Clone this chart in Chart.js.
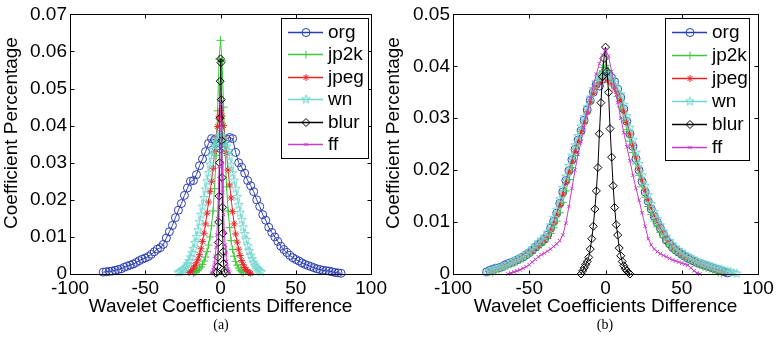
<!DOCTYPE html>
<html>
<head>
<meta charset="utf-8">
<script src="https://cdn.jsdelivr.net/npm/chart.js@4"></script>
<style>
body { margin: 0; background: #fff; }
#wrap { position: relative; width: 777px; height: 340px; }
canvas { position: absolute; top: 0; }
#cA { left: 0; }
#cB { left: 380px; }
.cap { position: absolute; top: 317px; line-height: 16px; font: 14px 'Liberation Serif', 'Times New Roman', serif; color: #000; transform: translateX(-50%); }
</style>
</head>
<body>
<div id="wrap">
  <canvas id="cA" width="390" height="340"></canvas>
  <canvas id="cB" width="397" height="340"></canvas>
  <div class="cap" style="left:221px">(a)</div>
  <div class="cap" style="left:605px">(b)</div>
</div>
<script>
// ---- (a) ----
const xL2 = [-78,-76,-74,-72,-70,-68,-66,-64,-62,-60,-58,-56,-54,-52,-50,-48,-46,-44,-42,-40,
  -38,-36,-34,-32,-30,-28,-26,-24,-22,-20,-18,-16,-14,-12,-10,-8,-6,-4,-2,0,
  2,4,6,8,10,12,14,16,18,20,22,24,26,28,30,32,34,36,38,40,
  42,44,46,48,50,52,54,56,58,60,62,64,66,68,70,72,74,76,78,80];
const orgA = [.0005,.0006,.0007,.0008,.0010,.0012,.0014,.0018,.0021,.0024,
  .0027,.0031,.0036,.0040,.0043,.0047,.0053,.0060,.0067,.0071,
  .0080,.0097,.0114,.0131,.0152,.0172,.0190,.0212,.0232,.0250,
  .0252,.0268,.0292,.0310,.0330,.0352,.0365,.0362,.0345,.0338,
  .0345,.0364,.0368,.0365,.0328,.0300,.0288,.0272,.0252,.0238,
  .0222,.0200,.0182,.0160,.0145,.0126,.0112,.0100,.0088,.0075,
  .0066,.0058,.0050,.0044,.0039,.0035,.0030,.0026,.0023,.0020,
  .0017,.0014,.0012,.0010,.0009,.0008,.0006,.0004,.0003,.0002];

const xL1 = [-28,-27,-26,-25,-24,-23,-22,-21,-20,-19,-18,-17,-16,-15,-14,-13,-12,-11,-10,-9,
  -8,-7,-6,-5,-4,-3,-2,-1,0,1,2,3,4,5,6,7,8,9,10,11,
  12,13,14,15,16,17,18,19,20,21,22,23,24,25,26,27];
const wnA = [.0004,.0006,.0008,.0011,.0015,.0020,.0027,.0035,.0045,.0056,
  .0068,.0084,.0100,.0118,.0140,.0160,.0182,.0205,.0228,.0250,
  .0272,.0295,.0318,.0335,.0345,.0355,.0365,.0372,.0376,.0372,
  .0364,.0354,.0344,.0332,.0316,.0294,.0272,.0252,.0230,.0208,
  .0186,.0165,.0146,.0126,.0108,.0092,.0076,.0062,.0050,.0040,
  .0031,.0023,.0017,.0012,.0008,.0005];
const jpegA = [null,null,null,null,null,null,null,
  .0004,.0007,.0011,.0016,.0022,.0030,.0040,.0052,.0068,.0088,
  .0110,.0135,.0164,.0194,.0222,.0250,.0285,.0330,.0368,.0398,
  .0425,.0440,.0426,.0400,.0366,.0325,.0280,.0240,.0205,.0168,
  .0135,.0108,.0086,.0067,.0050,.0036,.0025,.0017,.0011,.0007,
  .0004,.0002,
  null,null,null,null,null,null,null];
const jp2kA = [null,null,null,null,null,null,null,null,null,null,
  .0003,.0005,.0007,.0010,.0014,.0019,.0026,.0035,.0046,.0060,
  .0078,.0100,.0130,.0170,.0230,.0320,.0440,.0580,.0630,.0575,
  .0450,.0330,.0235,.0170,.0125,.0090,.0066,.0048,.0034,.0024,
  .0016,.0010,.0006,.0003,
  null,null,null,null,null,null,null,null,null,null,null,null];

const xBlurA = [-3,-2.5,-2,-1.75,-1.5,-1.25,-1,-0.75,-0.5,-0.25,0,0.25,0.5,0.75,1,1.25,1.5,1.75,2,2.5,3];
const blurA = [.0002,.0006,.0020,.0045,.0085,.0140,.0210,.0300,.0420,.0520,.0580,.0570,.0470,.0360,.0260,.0180,.0110,.0060,.0028,.0008,.0002];

const xFfA = [-6,-5.5,-5,-4.5,-4,-3.5,-3,-2.5,-2,-1.5,-1,-0.5,0,0.5,1,1.5,2,2.5,3,3.5,4,4.5,5,5.5,6];
const ffA = [.0002,.0005,.0010,.0018,.0030,.0048,.0072,.0105,.0150,.0210,.0290,.0390,.0460,
  .0400,.0300,.0220,.0160,.0112,.0078,.0052,.0034,.0021,.0012,.0006,.0002];

// ---- (b) ----
const xR = [-80,-78,-76,-74,-72,-70,-68,-66,-64,-62,-60,-58,-56,-54,-52,-50,-48,-46,-44,-42,
  -40,-38,-36,-34,-32,-30,-28,-26,-24,-22,-20,-18,-16,-14,-12,-10,-8,-6,-4,-2,
  0,2,4,6,8,10,12,14,16,18,20,22,24,26,28,30,32,34,36,38,
  40,42,44,46,48,50,52,54,56,58,60,62,64,66,68,70,72,74,76,78,80,82,84,86];
const orgB = [null,.0004,.0007,.0009,.0011,.0012,.0014,.0017,.0020,.0022,
  .0024,.0027,.0030,.0033,.0037,.0041,.0046,.0052,.0057,.0062,
  .0067,.0075,.0088,.0101,.0117,.0136,.0158,.0180,.0199,.0220,
  .0240,.0258,.0276,.0296,.0316,.0334,.0350,.0366,.0362,.0375,
  .0390,.0385,.0378,.0370,.0356,.0340,.0318,.0294,.0270,.0246,
  .0222,.0200,.0178,.0158,.0140,.0125,.0111,.0099,.0088,.0076,
  .0065,.0058,.0051,.0046,.0042,.0038,.0034,.0031,.0028,.0025,
  .0022,.0020,.0018,.0016,.0014,.0012,.0010,.0008,.0006,.0004,
  .0002,null,null,null];
const jp2kB = [null,null,null,.0003,.0006,.0009,.0011,.0013,.0016,.0019,
  .0021,.0024,.0027,.0030,.0034,.0038,.0042,.0047,.0052,.0057,
  .0062,.0068,.0078,.0089,.0102,.0118,.0138,.0160,.0182,.0205,
  .0228,.0250,.0270,.0290,.0310,.0330,.0350,.0368,.0385,.0398,
  .0402,.0392,.0376,.0360,.0342,.0322,.0300,.0278,.0256,.0234,
  .0212,.0190,.0168,.0148,.0130,.0115,.0102,.0091,.0080,.0070,
  .0061,.0054,.0048,.0043,.0039,.0035,.0031,.0028,.0025,.0022,
  .0019,.0017,.0014,.0012,.0010,.0008,.0006,.0003,.0001,null,
  null,null,null,null];
const jpegB = [null,null,.0004,.0006,.0008,.0010,.0013,.0016,.0018,.0021,
  .0024,.0027,.0030,.0034,.0038,.0042,.0045,.0050,.0056,.0061,
  .0066,.0073,.0085,.0098,.0114,.0132,.0154,.0176,.0196,.0216,
  .0236,.0255,.0274,.0292,.0312,.0332,.0348,.0360,.0368,.0374,
  .0378,.0372,.0366,.0358,.0348,.0334,.0314,.0292,.0270,.0248,
  .0226,.0204,.0182,.0162,.0144,.0128,.0114,.0101,.0090,.0079,
  .0069,.0061,.0054,.0048,.0043,.0039,.0035,.0032,.0029,.0026,
  .0023,.0020,.0018,.0016,.0014,.0012,.0010,.0008,.0005,.0003,
  null,null,null,null];
const wnB = [null,.0003,.0006,.0008,.0010,.0012,.0014,.0016,.0019,.0022,
  .0025,.0028,.0031,.0035,.0039,.0044,.0049,.0055,.0061,.0066,
  .0072,.0080,.0094,.0108,.0124,.0144,.0166,.0188,.0208,.0228,
  .0248,.0266,.0284,.0302,.0322,.0340,.0356,.0370,.0378,.0384,
  .0386,.0382,.0376,.0368,.0358,.0346,.0326,.0304,.0282,.0258,
  .0234,.0212,.0190,.0170,.0152,.0135,.0120,.0106,.0094,.0082,
  .0072,.0064,.0057,.0051,.0046,.0042,.0038,.0034,.0031,.0028,
  .0025,.0022,.0020,.0018,.0016,.0014,.0012,.0010,.0009,.0007,
  .0005,.0004,.0002,.0001];
const ffB = [null,null,null,null,null,null,null,null,.0000,.0002,
  .0004,.0006,.0008,.0011,.0014,.0018,.0023,.0028,.0033,.0037,
  .0040,.0044,.0048,.0053,.0058,.0064,.0075,.0098,.0130,.0165,
  .0200,.0230,.0255,.0282,.0310,.0338,.0362,.0385,.0405,.0422,
  .0432,.0420,.0390,.0360,.0330,.0300,.0272,.0245,.0218,.0190,
  .0165,.0142,.0118,.0092,.0068,.0056,.0048,.0043,.0039,.0036,
  .0033,.0030,.0027,.0025,.0023,.0021,.0019,.0017,.0012,.0006,
  .0002,.0000,null,null,null,null,null,null,null,null,
  null,null,null,null];
const xBlurB = [-16,-15,-14,-13,-12,-11,-10,-9,-8,-7,-6,-5,-4,-3,-2,-1,0,1,2,3,4,5,6,7,8,9,10,11,12,13,14,15,16];
const blurB = [.0000,.0006,.0012,.0018,.0024,.0032,.0048,.0068,.0092,.0125,.0160,.0205,.0270,.0330,.0380,.0415,
  .0437,.0390,.0350,.0280,.0225,.0170,.0128,.0095,.0075,.0050,.0035,.0024,.0016,.0010,.0006,.0003,.0000];

const xTicks = [-100, -50, 0, 50, 100];

// pentagram marker for "wn"
function pentagram(color, r) {
  const c = document.createElement('canvas');
  const s = Math.ceil(2 * r + 3);
  c.width = c.height = s;
  const g = c.getContext('2d');
  g.strokeStyle = color;
  g.lineWidth = 1;
  g.beginPath();
  for (let i = 0; i < 10; i++) {
    const rr = i % 2 ? r * 0.42 : r;
    const a = -Math.PI / 2 + i * Math.PI / 5;
    const px = s / 2 + rr * Math.cos(a), py = s / 2 + rr * Math.sin(a);
    i ? g.lineTo(px, py) : g.moveTo(px, py);
  }
  g.closePath();
  g.stroke();
  return c;
}

const look = {
  org:  { color: '#2d3fb0', style: 'circle', r: 4, order: 6 },
  jp2k: { color: '#3cc83c', style: 'cross', r: 4, order: 5 },
  jpeg: { color: '#e8262a', style: 'star', r: 3.5, order: 4 },
  wn:   { color: '#72d6cf', style: pentagram('#72d6cf', 4.5), r: 4.5, order: 3 },
  blur: { color: '#000000', style: 'rectRot', r: 4, order: 2 },
  ff:   { color: '#c83cc8', style: 'crossRot', r: 2.5, order: 1 }
};

function series(name, xs, ys) {
  const lk = look[name];
  return {
    label: name,
    data: xs.map((x, i) => ({ x: x, y: ys[i] })).filter(p => p.y !== null),
    showLine: true,
    borderColor: lk.color,
    borderWidth: 1,
    pointStyle: lk.style,
    pointRadius: lk.r,
    pointBorderColor: lk.color,
    pointBackgroundColor: 'rgba(0,0,0,0)',
    pointBorderWidth: 1,
    order: lk.order,
    clip: false,
    tension: 0
  };
}

function mark(ctx, style, x, y, r) {
  if (typeof style !== 'string') {
    ctx.drawImage(style, x - style.width / 2, y - style.height / 2);
    return;
  }
  ctx.beginPath();
  if (style === 'circle') ctx.arc(x, y, r, 0, Math.PI * 2);
  if (style === 'cross' || style === 'star') {
    ctx.moveTo(x - r, y); ctx.lineTo(x + r, y);
    ctx.moveTo(x, y - r); ctx.lineTo(x, y + r);
  }
  if (style === 'crossRot' || style === 'star') {
    const d = r * 0.707;
    ctx.moveTo(x - d, y - d); ctx.lineTo(x + d, y + d);
    ctx.moveTo(x - d, y + d); ctx.lineTo(x + d, y - d);
  }
  if (style === 'rectRot') {
    ctx.moveTo(x, y - r); ctx.lineTo(x + r, y); ctx.lineTo(x, y + r); ctx.lineTo(x - r, y); ctx.closePath();
  }
  ctx.stroke();
}

const FONT = "19px 'Liberation Sans', Arial, sans-serif";

// box, inward ticks, y title and legend drawn the MATLAB way
const frame = {
  id: 'frame',
  afterDraw(chart, args, opts) {
    const { ctx, chartArea: a, scales: { x, y } } = chart;
    const L = Math.round(a.left) + 0.5, R = Math.round(a.right) + 0.5;
    const T = Math.round(a.top) + 0.5, B = Math.round(a.bottom) + 0.5;
    ctx.save();
    ctx.strokeStyle = '#000';
    ctx.lineWidth = 1;
    ctx.strokeRect(L, T, R - L, B - T);
    ctx.beginPath();
    x.ticks.forEach(t => {
      const p = Math.round(x.getPixelForValue(t.value)) + 0.5;
      ctx.moveTo(p, B); ctx.lineTo(p, B - 4);
      ctx.moveTo(p, T); ctx.lineTo(p, T + 4);
    });
    y.ticks.forEach(t => {
      const p = Math.round(y.getPixelForValue(t.value)) + 0.5;
      ctx.moveTo(L, p); ctx.lineTo(L + 4, p);
      ctx.moveTo(R, p); ctx.lineTo(R - 4, p);
    });
    ctx.stroke();

    ctx.font = FONT;
    ctx.fillStyle = '#000';
    ctx.save();
    ctx.translate(opts.ytitle[0], opts.ytitle[1]);
    ctx.rotate(-Math.PI / 2);
    ctx.textAlign = 'center';
    ctx.textBaseline = 'middle';
    ctx.fillText('Coefficient Percentage', 0, 0);
    ctx.restore();

    const [bx, by, bw, bh] = opts.box;
    ctx.fillStyle = '#fff';
    ctx.fillRect(bx, by, bw, bh);
    ctx.strokeRect(bx + 0.5, by + 0.5, bw, bh);
    ctx.textBaseline = 'middle';
    chart.data.datasets.forEach((ds, i) => {
      const lk = look[ds.label];
      const yy = Math.round(by + opts.first + i * opts.gap) + 0.5;
      ctx.strokeStyle = lk.color;
      ctx.lineWidth = 1.5;
      ctx.beginPath();
      ctx.moveTo(bx + 7, yy); ctx.lineTo(bx + 42, yy);
      ctx.stroke();
      ctx.lineWidth = 1;
      mark(ctx, lk.style, bx + 25, yy, lk.r);
      ctx.fillStyle = '#000';
      ctx.fillText(ds.label, bx + 47, yy);
    });
    ctx.restore();
  }
};

Chart.defaults.font.family = "'Liberation Sans', Arial, sans-serif";
Chart.defaults.font.size = 19;
Chart.defaults.color = '#000';

function build(id, datasets, yMax, yWidth, ytitle, padRight, box, first, gap) {
  new Chart(document.getElementById(id), {
    type: 'scatter',
    data: { datasets: datasets },
    plugins: [frame],
    options: {
      responsive: false,
      animation: false,
      devicePixelRatio: 1,
      events: [],
      layout: { padding: { left: 0, right: padRight, top: 13, bottom: 0 } },
      scales: {
        x: {
          type: 'linear', min: -100, max: 100,
          afterBuildTicks: s => { s.ticks = xTicks.map(v => ({ value: v })); },
          ticks: { padding: 3, callback: v => String(v) },
          grid: { display: false, drawTicks: false, tickLength: 0 }, border: { display: false },
          title: { display: true, text: 'Wavelet Coefficients Difference', padding: { top: 0, bottom: 22 } },
          afterFit: s => { s.height = 66; }
        },
        y: {
          min: 0, max: yMax,
          ticks: { stepSize: 0.01, padding: 3, callback: v => (v === 0 ? '0' : v.toFixed(2)) },
          grid: { display: false, drawTicks: false, tickLength: 0 }, border: { display: false },
          afterFit: s => { s.width = yWidth; }
        }
      },
      plugins: {
        legend: { display: false },
        tooltip: { enabled: false },
        frame: { box: box, first: first, gap: gap, ytitle: ytitle }
      }
    }
  });
}

build('cA', [
  series('org', xL2, orgA),
  series('jp2k', xL1, jp2kA),
  series('jpeg', xL1, jpegA),
  series('wn', xL1, wnA),
  series('blur', xBlurA, blurA),
  series('ff', xFfA, ffA)
], 0.07, 70, [12, 133], 18, [281, 18, 87, 140], 14, 22.4);

build('cB', [
  series('org', xR, orgB),
  series('jp2k', xR, jp2kB),
  series('jpeg', xR, jpegB),
  series('wn', xR, wnB),
  series('blur', xBlurB, blurB),
  series('ff', xR, ffB)
], 0.05, 73, [14, 133], 19, [285, 18, 84, 142], 14, 23);
</script>
</body>
</html>
